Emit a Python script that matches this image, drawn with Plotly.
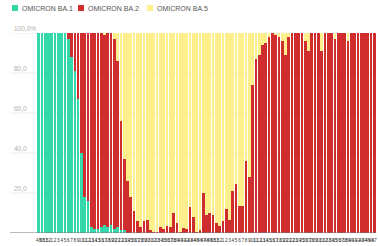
import plotly.graph_objects as go

weeks = [49, 50, 51, 52] + list(range(1, 53)) + list(range(1, 48))
week_labels = [str(w) for w in weeks]

# cumulative share (BA.1 + BA.2) per week, in %
cum_ba1_ba2 = [
    100, 100, 100, 100, 100, 100, 100, 100, 100, 100,   # 0-9
    100, 100, 100, 100, 100, 100, 100, 100, 100, 100,   # 10-19
    99, 100, 100, 97, 86, 56, 37, 26, 18, 11,           # 20-29
    6, 3, 6, 6.5, 1.5, 0.5, 0.5, 3, 2, 3.5,             # 30-39
    3, 10, 5, 0.5, 2.5, 2, 13, 8, 0.5, 1.5,             # 40-49
    20, 9, 10, 9, 5, 3.5, 6, 12, 6.5, 21,               # 50-59
    24.5, 13.5, 13.5, 36, 28, 74, 87, 89, 94, 95,       # 60-69
    98, 100, 99, 98, 96, 89, 98, 100, 100, 100,         # 70-79
    100, 96, 91, 100, 100, 100, 91, 100, 100, 100,      # 80-89
    97, 100, 100, 100, 96, 100, 100, 100, 100, 100,     # 90-99
    100, 100, 100,                                      # 100-102
]

ba1 = [
    100, 100, 100, 100, 100, 100, 100, 100, 100, 97,
    88, 81, 67, 40, 18, 16, 3, 2, 2, 3,
    4, 3, 4, 2, 3, 1.5, 1.5,
] + [0] * (103 - 27)

ba2 = [round(c - g, 2) for c, g in zip(cum_ba1_ba2, ba1)]
ba5 = [round(100 - c, 2) for c in cum_ba1_ba2]

series = [
    ("OMICRON BA.1", ba1, "#34d8ab"),
    ("OMICRON BA.2", ba2, "#d02e2e"),
    ("OMICRON BA.5", ba5, "#fcef8c"),
]

x = list(range(len(weeks)))
fig = go.Figure()
for name, vals, col in series:
    fig.add_trace(go.Bar(x=x, y=vals, name=name, marker=dict(color=col, line=dict(width=0)),
                         showlegend=False))

y_ticks = [20, 40, 60, 80, 100]
y_text = ["20,0", "40,0", "60,0", "80,0", "100,0%"]

dom0 = 27 / 366
fig.update_layout(
    width=378, height=246,
    margin=dict(l=10, r=2, t=33, b=13, autoexpand=False),
    barmode="stack", bargap=0.18,
    plot_bgcolor="white", paper_bgcolor="white",
    font=dict(family="Liberation Sans, Arial, sans-serif", size=7, color="#555"),
    xaxis=dict(domain=[dom0, 1], range=[-0.5, len(weeks) - 0.5], tickmode="array",
               tickvals=x, ticktext=week_labels, tickangle=0, automargin=False,
               ticklabelstandoff=3,
               tickfont=dict(size=4.6, color="#333"), showgrid=False, ticks="",
               showline=False, zeroline=False, fixedrange=True),
    yaxis=dict(range=[0, 100], tickmode="array", tickvals=y_ticks, ticktext=y_text,
               anchor="free", position=0, ticklabelposition="inside top",
               ticklabeloverflow="allow", automargin=False,
               tickfont=dict(size=6.5, color="#b0b0b0"), showgrid=True,
               gridcolor="#ececec", gridwidth=1, zeroline=False, showline=False, ticks=""),
)

# grid lines and baseline extending into the label area
for t in y_ticks:
    fig.add_shape(type="line", xref="paper", yref="y", x0=0, x1=dom0, y0=t, y1=t,
                  line=dict(color="#ececec", width=1), layer="below")
fig.add_shape(type="line", xref="paper", yref="y", x0=0, x1=1, y0=0, y1=0,
              line=dict(color="#777", width=1))

# legend row
legend_x = [12, 78, 147]
for (name, vals, col), lx in zip(series, legend_x):
    fig.add_shape(type="rect", xref="paper", yref="paper",
                  x0=(lx - 10) / 366, x1=(lx - 4) / 366,
                  y0=1 + (33 - 11) / 200, y1=1 + (33 - 5) / 200,
                  fillcolor=col, line=dict(width=0))
    fig.add_annotation(text=name, xref="paper", yref="paper", x=(lx - 2) / 366,
                       y=1 + (33 - 8) / 200, xanchor="left", yanchor="middle",
                       showarrow=False, font=dict(size=7, color="#555"))

fig.write_html("out.html", config={"displayModeBar": False},
               post_script="document.body.style.margin='0';")
